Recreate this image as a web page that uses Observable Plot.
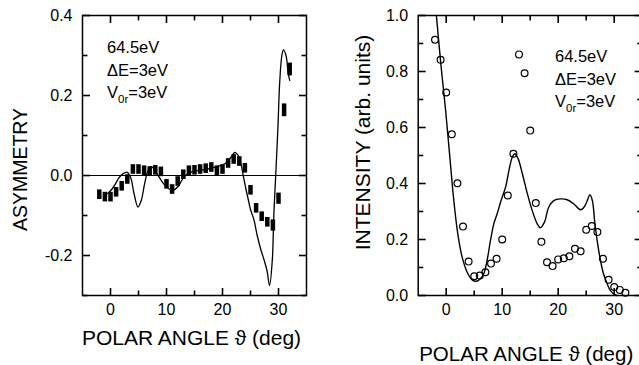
<!DOCTYPE html>
<html>
<head>
<meta charset="utf-8">
<script src="https://cdn.jsdelivr.net/npm/d3@7"></script>
<script src="https://cdn.jsdelivr.net/npm/@observablehq/plot@0.6"></script>
<style>
  body { margin: 0; background: #fff; }
  #fig { position: relative; width: 639px; height: 365px; overflow: hidden; background: #fff; }
  #fig svg { position: absolute; top: 0; }
</style>
</head>
<body>
<div id="fig"></div>
<script>
// Measured spin asymmetry (with error bars) versus polar angle
const asymAngles = [-2, -1, 0, 1, 2, 3, 4, 5, 6, 7, 8, 9, 10, 11, 12, 13, 14, 15, 16, 17, 18, 19, 20, 21, 22, 23, 24, 25, 26, 27, 28, 29, 30, 31, 32];
const asymValues = [-0.048, -0.054, -0.054, -0.042, -0.027, -0.010, 0.015, 0.015, 0.012, 0.010, 0.013, 0.009, -0.022, -0.035, -0.015, 0.002, 0.012, 0.013, 0.015, 0.017, 0.020, 0.012, 0.015, 0.030, 0.040, 0.035, 0.018, -0.037, -0.082, -0.103, -0.117, -0.125, -0.058, 0.163, 0.265];
const asymErrors = [0.012, 0.012, 0.012, 0.012, 0.012, 0.012, 0.012, 0.012, 0.012, 0.012, 0.012, 0.012, 0.012, 0.012, 0.012, 0.012, 0.012, 0.012, 0.012, 0.012, 0.012, 0.012, 0.012, 0.012, 0.012, 0.012, 0.012, 0.012, 0.012, 0.012, 0.012, 0.014, 0.014, 0.016, 0.016];

// Calculated asymmetry
const asymCurveAngles = [-0.5, 0.2, 1.0, 1.5, 2.2, 3.0, 3.6, 4.2, 4.9, 5.5, 6.1, 6.7, 7.3, 8.3, 9.5, 10.4, 11.3, 12.2, 13.1, 14.3, 15.5, 17.0, 19.0, 20.5, 21.5, 22.2, 22.8, 23.3, 23.7, 24.2, 24.6, 25.0, 25.6, 26.2, 26.8, 27.4, 27.95, 28.4, 28.9, 29.15, 29.5, 29.9, 30.2, 30.6, 30.9, 31.4, 31.7, 32.0];
const asymCurveValues = [-0.045, -0.035, -0.018, -0.006, 0.004, 0.008, -0.005, -0.045, -0.079, -0.062, -0.020, 0.012, 0.022, 0.004, -0.021, -0.033, -0.036, -0.025, -0.004, 0.008, 0.012, 0.015, 0.022, 0.030, 0.045, 0.058, 0.050, 0.029, 0.000, -0.035, -0.060, -0.085, -0.110, -0.150, -0.183, -0.210, -0.238, -0.275, -0.210, -0.104, 0.000, 0.121, 0.229, 0.300, 0.314, 0.296, 0.258, 0.238];

// Measured intensity versus polar angle
const intAngles = [-2, -1, 0, 1, 2, 3, 4, 5, 6, 7, 8, 9, 10, 11, 12, 13, 14, 15, 16, 17, 18, 19, 20, 21, 22, 23, 24, 25, 26, 27, 28, 29, 30, 31, 32];
const intValues = [0.913, 0.842, 0.725, 0.576, 0.401, 0.246, 0.121, 0.069, 0.071, 0.083, 0.114, 0.131, 0.200, 0.357, 0.506, 0.861, 0.794, 0.589, 0.330, 0.192, 0.119, 0.105, 0.129, 0.133, 0.140, 0.167, 0.158, 0.235, 0.248, 0.227, 0.131, 0.056, 0.030, 0.020, 0.010];

// Calculated intensity
const intCurveAngles = [-1.75, -0.9, -0.1, 0.65, 1.36, 2.07, 2.85, 3.75, 4.64, 5.4, 6.1, 6.7, 7.3, 7.9, 8.5, 9.1, 9.8, 10.6, 11.2, 11.8, 12.25, 12.85, 13.6, 14.5, 15.35, 16.25, 16.8, 17.55, 18.3, 19.2, 20.4, 21.6, 22.8, 24.0, 24.6, 25.2, 25.65, 26.1, 26.5, 26.96, 27.55, 28.1, 28.75, 29.3, 29.9, 30.5];
const intCurveValues = [1.0, 0.815, 0.66, 0.494, 0.339, 0.22, 0.137, 0.083, 0.056, 0.051, 0.06, 0.077, 0.125, 0.196, 0.256, 0.292, 0.339, 0.387, 0.446, 0.494, 0.506, 0.488, 0.435, 0.363, 0.304, 0.256, 0.242, 0.262, 0.315, 0.339, 0.345, 0.342, 0.327, 0.306, 0.315, 0.339, 0.36, 0.339, 0.268, 0.196, 0.125, 0.077, 0.042, 0.018, 0.006, 0.0];

// Axis ticks
const xDomain = [-5, 35];
const xMajor = [0, 10, 20, 30];
const xMinor = [5, 15, 25];
const asymYDomain = [-0.3, 0.4];
const asymYMajor = [-0.2, 0, 0.2, 0.4];
const asymYMinor = [-0.3, -0.1, 0.1, 0.3];
const intYDomain = [0, 1];
const intYMajor = [0, 0.2, 0.4, 0.6, 0.8, 1.0];
const intYMinor = [0.1, 0.3, 0.5, 0.7, 0.9];

// Labels
const xTitle = "POLAR ANGLE \u03D1 (deg)";
const asymTitle = "ASYMMETRY";
const intTitle = "INTENSITY (arb. units)";
const noteLines = [["64.5eV"], ["\u0394E=3eV"], ["V", "0r", "=3eV"]];

const FONT = '"Liberation Sans", Arial, Helvetica, sans-serif';
const MARGIN_TOP = 15, MARGIN_BOTTOM = 70, HEIGHT = 365;
const FRAME_H = HEIGHT - MARGIN_TOP - MARGIN_BOTTOM;

const asymPoints = asymAngles.map((a, i) => ({a, v: asymValues[i], e: asymErrors[i]}));
const asymCurve = asymCurveAngles.map((a, i) => ({a, v: asymCurveValues[i]}));
const intPoints = intAngles.map((a, i) => ({a, v: intValues[i]}));
const intCurve = intCurveAngles.map((a, i) => ({a, v: intCurveValues[i]}));

// Inward ticks on all four sides, drawn as short links whose pixel length is
// converted to data units, plus numeric labels on the left and bottom.
function frameAxes(frameW, yDomain, yMajor, yMinor) {
  const [x0, x1] = xDomain, [y0, y1] = yDomain;
  const kx = (x1 - x0) / frameW, ky = (y1 - y0) / FRAME_H;
  const tick = {stroke: "black", strokeWidth: 1.6};
  const xs = (vals, len) => [
    Plot.link(vals, {x1: d => d, x2: d => d, y1: y0, y2: y0 + len * ky, ...tick}),
    Plot.link(vals, {x1: d => d, x2: d => d, y1: y1, y2: y1 - len * ky, ...tick})
  ];
  const ys = (vals, len) => [
    Plot.link(vals, {y1: d => d, y2: d => d, x1: x0, x2: x0 + len * kx, ...tick}),
    Plot.link(vals, {y1: d => d, y2: d => d, x1: x1, x2: x1 - len * kx, ...tick})
  ];
  return [
    ...xs(xMajor, 7.5), ...xs(xMinor, 5),
    ...ys(yMajor, 7.5), ...ys(yMinor, 5),
    Plot.axisX(xMajor, {anchor: "bottom", tickSize: 0, tickPadding: 8, tickFormat: d => String(d), label: null}),
    Plot.axisY(yMajor, {anchor: "left", tickSize: 0, tickPadding: 10, tickFormat: d => d.toFixed(1), label: null}),
    Plot.frame({stroke: "black", strokeWidth: 1.5})
  ];
}

function addNote(svg, x, y) {
  const g = d3.select(svg).append("g")
    .attr("font-family", FONT).attr("font-size", 16.5).attr("fill", "black")
    .attr("text-anchor", "start");
  noteLines.forEach(([main, sub, rest], i) => {
    const t = g.append("text").attr("x", x).attr("y", y + i * 22.5);
    t.append("tspan").text(main);
    if (sub) {
      t.append("tspan").attr("font-size", 11.5).attr("dy", 4.5).text(sub);
      t.append("tspan").attr("dy", -4.5).text(rest);
    }
  });
}

const fig = document.getElementById("fig");
const baseStyle = {fontFamily: FONT, fontSize: "16px", color: "black", background: "transparent"};

// Left panel: asymmetry
const leftW = 320, leftML = 82, leftMR = 14;
const left = Plot.plot({
  width: leftW,
  height: HEIGHT,
  marginLeft: leftML,
  marginRight: leftMR,
  marginTop: MARGIN_TOP,
  marginBottom: MARGIN_BOTTOM,
  style: baseStyle,
  x: {domain: xDomain},
  y: {domain: asymYDomain},
  marks: [
    Plot.ruleY([0], {stroke: "black", strokeWidth: 1}),
    Plot.line(asymCurve, {x: "a", y: "v", curve: "catmull-rom", stroke: "black", strokeWidth: 1.3}),
    Plot.ruleX(asymPoints, {x: "a", y1: d => d.v - d.e, y2: d => d.v + d.e, stroke: "black", strokeWidth: 4.5}),
    ...frameAxes(leftW - leftML - leftMR, asymYDomain, asymYMajor, asymYMinor),
    Plot.text([asymTitle], {frameAnchor: "left", dx: -62, dy: 14, rotate: -90, textAnchor: "middle", lineAnchor: "middle", fontSize: 19.5}),
    Plot.text([xTitle], {frameAnchor: "bottom", dx: -3, dy: 43, textAnchor: "middle", lineAnchor: "middle", fontSize: 21})
  ]
});
left.style.left = "0px";
addNote(left, 107, 53);
fig.appendChild(left);

// Right panel: intensity
const rightW = 330, rightML = 97.7, rightMR = 8.3;
const right = Plot.plot({
  width: rightW,
  height: HEIGHT,
  marginLeft: rightML,
  marginRight: rightMR,
  marginTop: MARGIN_TOP,
  marginBottom: MARGIN_BOTTOM,
  style: baseStyle,
  x: {domain: xDomain},
  y: {domain: intYDomain},
  marks: [
    Plot.line(intCurve, {x: "a", y: "v", curve: "catmull-rom", stroke: "black", strokeWidth: 1.4}),
    Plot.dot(intPoints, {x: "a", y: "v", r: 3.4, stroke: "black", strokeWidth: 1.2, fill: "none"}),
    ...frameAxes(rightW - rightML - rightMR, intYDomain, intYMajor, intYMinor),
    Plot.text([intTitle], {frameAnchor: "left", dx: -55, dy: -13, rotate: -90, textAnchor: "middle", lineAnchor: "middle", fontSize: 21}),
    Plot.text([xTitle], {frameAnchor: "bottom", dx: -4, dy: 59, textAnchor: "middle", lineAnchor: "middle", fontSize: 20.5})
  ]
});
right.style.left = "320px";
addNote(right, 235, 62);
fig.appendChild(right);
</script>
</body>
</html>
